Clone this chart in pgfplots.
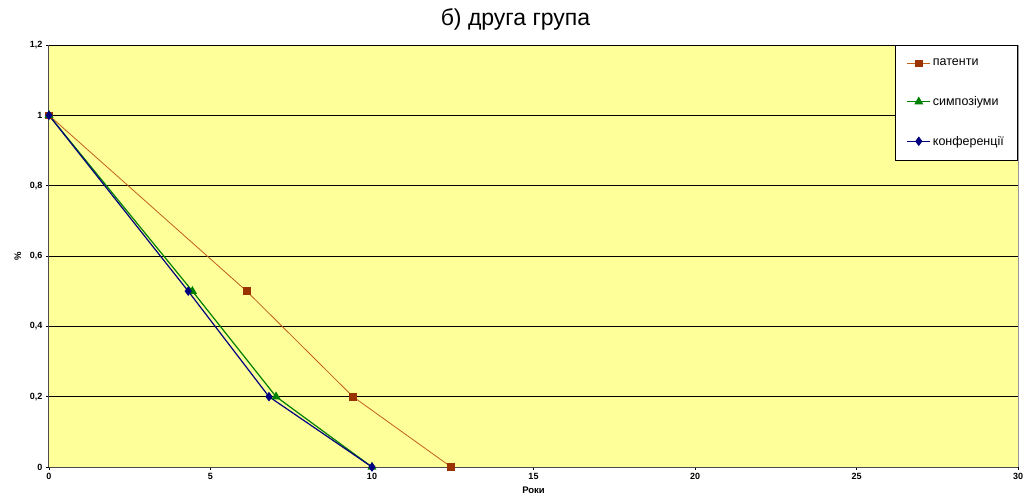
\documentclass[border=0pt]{standalone}
\usepackage{fontspec}
\setmainfont{Liberation Sans}
\usepackage{pgfplots}
\pgfplotsset{compat=1.18}
\definecolor{bgy}{HTML}{FFFF99}
\definecolor{pat}{HTML}{993300}
\definecolor{patl}{HTML}{C0601A}
\definecolor{sym}{HTML}{008000}
\definecolor{con}{HTML}{000080}
\begin{document}
\begin{tikzpicture}
\begin{axis}[
  scale only axis, width=969pt, height=422pt,
  xmin=0, xmax=30, ymin=0, ymax=1.2,
  xtick={0,5,...,30}, ytick={0,0.2,...,1.2},
  /pgf/number format/use comma,
  /pgf/number format/assume math mode=true,
  ticklabel style={font=\fontsize{9}{10}\selectfont\bfseries},
  yticklabel style={/pgf/number format/fixed},
  tick align=outside, tick pos=left,
  major tick length=3pt,
  tick style={black, line width=0.6pt},
  ymajorgrids, grid style={black, line width=0.7pt},
  axis background/.style={fill=bgy},
  axis x line*=bottom, axis y line*=left,
  axis line style={draw=black!70, line width=1pt, -},
  xlabel={\bfseries Роки}, ylabel={\bfseries \%},
  label style={font=\fontsize{9.5}{10}\selectfont},
  xlabel style={yshift=0pt},
  ylabel style={yshift=2pt},
  legend style={at={(1,1)}, anchor=north east, xshift=-1pt, draw=black, fill=white,
    font=\fontsize{12.5}{13}\selectfont, row sep=25pt, inner xsep=11pt, inner ysep=12pt,
    cells={anchor=west}},
  legend image code/.code={
    \draw[mark repeat=2,mark phase=2] plot coordinates {(0pt,0pt) (11.5pt,0pt) (23pt,0pt)};},
]
\addplot[patl, line width=0.8pt, mark=square*, mark size=3.3pt, mark options={fill=pat, draw=pat}]
  coordinates {(0,1) (6.12,0.5) (9.41,0.2) (12.45,0)};
\addlegendentry{патенти}
\addplot[sym, line width=1.2pt, mark=triangle*, mark size=4pt, mark options={fill=sym}]
  coordinates {(0,1) (4.44,0.5) (7.03,0.2) (10.0,0)};
\addlegendentry{симпозіуми}
\addplot[con, line width=1.2pt, mark=diamond*, mark size=3.8pt, mark options={fill=con}]
  coordinates {(0,1) (4.31,0.5) (6.81,0.2) (10.0,0)};
\addlegendentry{конференції}
\end{axis}
\draw[black!40, line width=0.8pt] (current axis.south east) -- (current axis.north east);
\node[font=\fontsize{23}{26}\selectfont] at ([yshift=26pt,xshift=-18pt]current axis.north) {б) друга група};
\path[use as bounding box] ([xshift=-49pt,yshift=-34pt]current axis.south west) rectangle ([xshift=13pt,yshift=45pt]current axis.north east);
\end{tikzpicture}
\end{document}
